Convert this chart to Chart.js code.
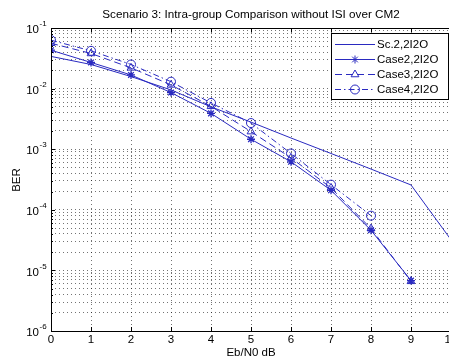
<!DOCTYPE html>
<html>
<head>
<meta charset="utf-8">
<style>
html, body { margin: 0; padding: 0; overflow: hidden; background: #fff; }
#wrap { width: 462px; height: 360px; }
</style>
<script src="https://cdn.jsdelivr.net/npm/chart.js@4.4.1/dist/chart.umd.min.js"></script>
</head>
<body>
<div id="wrap"><canvas id="myChart" width="462" height="360"></canvas></div>
<script>
// valores
const ebno = [0, 1, 2, 3, 4, 5, 6, 7, 8, 9, 10];
const sc2 = [0.034, 0.025, 0.0158, 0.0095, 0.005, 0.0028, 0.00153, 0.00085, 0.00047, 0.000257, 0.000032];
const case2 = [0.043, 0.027, 0.0168, 0.0086, 0.0039, 0.00146, 0.00062, 0.00021, 0.000046, 0.0000068];
const case3 = [0.056, 0.038, 0.022, 0.0115, 0.0051, 0.00195, 0.00072, 0.00023, 0.000049, 0.0000066];
const case4 = [0.063, 0.042, 0.025, 0.013, 0.0058, 0.0027, 0.00085, 0.00026, 0.00008];
const labels = ['Sc.2,2I2O', 'Case2,2I2O', 'Case3,2I2O', 'Case4,2I2O'];
const yExps = [-6, -5, -4, -3, -2, -1];
const xTicks = [0, 1, 2, 3, 4, 5, 6, 7, 8, 9, 10];

const blue = '#2a2ac0';
const font = '"Liberation Sans", Arial, sans-serif';

function pts(arr) {
    return arr.map((v, i) => ({ x: ebno[i], y: v }));
}

// marcas do eixo log: 1..9 x 10^n
let logTicks = [];
yExps.forEach((e) => {
    for (let m = 1; m <= 9; m++) {
        if (e === -1 && m > 1) break;
        logTicks.push({ value: m * Math.pow(10, e), major: m === 1 });
    }
});

const matlabLook = {
    id: 'matlabLook',
    afterDraw(chart) {
        const c = chart.ctx;
        const a = chart.chartArea;
        const xs = chart.scales.x;
        const ys = chart.scales.y;
        c.save();

        // moldura
        c.strokeStyle = '#000';
        c.lineWidth = 1;
        c.strokeRect(a.left + 0.5, a.top + 0.5, a.right - a.left, a.bottom - a.top);

        // tracinhos para dentro
        c.beginPath();
        xTicks.forEach((t) => {
            const px = Math.round(xs.getPixelForValue(t)) + 0.5;
            c.moveTo(px, a.bottom); c.lineTo(px, a.bottom - 4);
            c.moveTo(px, a.top); c.lineTo(px, a.top + 4);
        });
        logTicks.forEach((t) => {
            const py = Math.round(ys.getPixelForValue(t.value)) + 0.5;
            const len = t.major ? 4 : 2;
            c.moveTo(a.left, py); c.lineTo(a.left + len, py);
        });
        c.stroke();

        // rótulos do eixo x
        c.fillStyle = '#000';
        c.font = '11.5px ' + font;
        c.textAlign = 'center';
        c.textBaseline = 'middle';
        xTicks.forEach((t) => {
            c.fillText(String(t), xs.getPixelForValue(t), 340);
        });

        // rótulos do eixo y: 10^n
        yExps.forEach((e) => {
            const py = ys.getPixelForValue(Math.pow(10, e));
            c.font = '11.5px ' + font;
            c.textAlign = 'right';
            c.fillText('10', 39, py + 2);
            c.font = '8px ' + font;
            c.textAlign = 'left';
            c.fillText(String(e), 39.5, py - 4);
        });

        // títulos
        c.font = '11.7px ' + font;
        c.textAlign = 'center';
        c.fillText('Scenario 3: Intra-group Comparison without ISI over CM2', 251, 15);
        c.font = '11.5px ' + font;
        c.fillText('Eb/N0 dB', 251, 353);
        c.save();
        c.translate(17, 180);
        c.rotate(-Math.PI / 2);
        c.fillText('BER', 0, 0);
        c.restore();

        // legenda
        c.fillStyle = '#fff';
        c.fillRect(331.5, 33.5, 117, 66);
        c.strokeStyle = '#000';
        c.strokeRect(331.5, 33.5, 117, 66);
        chart.data.datasets.forEach((ds, i) => {
            const ly = 44 + i * 15;
            c.strokeStyle = ds.borderColor;
            c.lineWidth = 1;
            c.setLineDash(ds.borderDash || []);
            c.beginPath();
            c.moveTo(335, ly + 0.5);
            c.lineTo(375, ly + 0.5);
            c.stroke();
            c.setLineDash([]);
            if (ds.pointRadius > 0) {
                c.fillStyle = 'rgba(0,0,0,0)';
                Chart.helpers.drawPoint(c, {
                    pointStyle: ds.pointStyle,
                    radius: ds.pointRadius,
                    borderWidth: 1,
                    rotation: 0
                }, 355, ly + 0.5);
            }
            c.fillStyle = '#000';
            c.font = '11.5px ' + font;
            c.textAlign = 'left';
            c.fillText(ds.label, 377, ly + 1);
        });

        c.restore();
    }
};

const ctx = document.getElementById('myChart').getContext('2d');

const myChart = new Chart(ctx, {
    type: 'line',
    data: {
        datasets: [{
            label: labels[0],
            data: pts(sc2),
            borderColor: blue,
            borderWidth: 1,
            pointRadius: 0,
            tension: 0
        }, {
            label: labels[1],
            data: pts(case2),
            borderColor: blue,
            borderWidth: 1,
            pointStyle: 'star',
            pointRadius: 4,
            pointBorderWidth: 1.3,
            pointBackgroundColor: 'rgba(0,0,0,0)',
            tension: 0
        }, {
            label: labels[2],
            data: pts(case3),
            borderColor: blue,
            borderWidth: 1,
            borderDash: [7, 4],
            pointStyle: 'triangle',
            pointRadius: 4.5,
            pointBorderWidth: 1,
            pointBackgroundColor: 'rgba(0,0,0,0)',
            tension: 0
        }, {
            label: labels[3],
            data: pts(case4),
            borderColor: blue,
            borderWidth: 1,
            borderDash: [6, 3, 1.5, 3],
            pointStyle: 'circle',
            pointRadius: 4.5,
            pointBorderWidth: 1,
            pointBackgroundColor: 'rgba(0,0,0,0)',
            tension: 0
        }]
    },
    options: {
        responsive: false,
        animation: false,
        layout: {
            padding: { left: 51, top: 28, right: 11, bottom: 29 }
        },
        plugins: {
            legend: { display: false },
            title: { display: false },
            tooltip: { enabled: false }
        },
        scales: {
            x: {
                type: 'linear',
                min: 0,
                max: 10,
                afterBuildTicks: (s) => { s.ticks = xTicks.map((v) => ({ value: v })); },
                ticks: { display: false },
                grid: {
                    color: 'rgba(0,0,0,0.55)',
                    lineWidth: 1,
                    drawTicks: false,
                    tickLength: 0
                },
                border: { display: false, dash: [1, 3] }
            },
            y: {
                type: 'logarithmic',
                min: 1e-6,
                max: 1e-1,
                afterBuildTicks: (s) => { s.ticks = logTicks.map((t) => ({ value: t.value, major: t.major })); },
                ticks: { display: false },
                grid: {
                    color: 'rgba(0,0,0,0.55)',
                    lineWidth: 1,
                    drawTicks: false,
                    tickLength: 0
                },
                border: { display: false, dash: [1, 3] }
            }
        }
    },
    plugins: [matlabLook]
});
</script>
</body>
</html>
